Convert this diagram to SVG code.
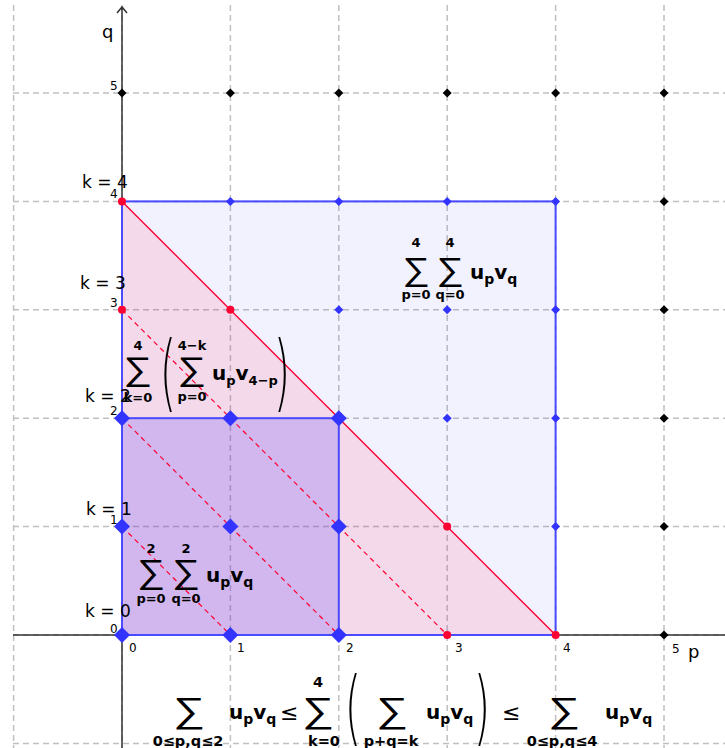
<svg xmlns="http://www.w3.org/2000/svg" width="725" height="748" viewBox="0 0 725 748">
<defs>
<style>
.grid{stroke:#c0c0c0;stroke-width:1.5;stroke-dasharray:6,4;fill:none}
.axis{stroke:#333;stroke-width:1.5;fill:none}
.edge{stroke:#4a4aff;stroke-width:2;fill:none}
.rl{stroke:#ff0033;stroke-width:1.4;fill:none}
.rd{stroke:#ff0033;stroke-width:1.2;fill:none;stroke-dasharray:5,4}
.tk{font-family:"DejaVu Sans",sans-serif;font-size:12px;fill:#000}
.kl{font-family:"DejaVu Sans",sans-serif;font-size:17px;fill:#000}
.ax{font-family:"DejaVu Sans",sans-serif;font-size:18px;fill:#000}
.sig{font-family:"DejaVu Sans",sans-serif;font-weight:200;font-size:32px;text-anchor:middle;fill:#000}
.lim{font-family:"DejaVu Sans",sans-serif;font-weight:bold;font-size:13px;text-anchor:middle;fill:#000}
.lim2{font-family:"DejaVu Sans",sans-serif;font-weight:bold;font-size:14.5px;text-anchor:middle;fill:#000}
.uv{font-family:"DejaVu Sans",sans-serif;font-weight:bold;font-size:20px;fill:#000}
.par{font-family:"DejaVu Sans",sans-serif;font-weight:200;font-size:42px;text-anchor:middle;fill:#000}
.le{font-family:"DejaVu Sans",sans-serif;font-size:22px;fill:#000}
</style>
<path id="dB" d="M0,-8 L8,0 L0,8 L-8,0Z" fill="#3333ff"/>
<path id="ds" d="M0,-4.5 L4.5,0 L0,4.5 L-4.5,0Z" fill="#3333ff"/>
<path id="dk" d="M0,-4.5 L4.5,0 L0,4.5 L-4.5,0Z" fill="#000"/>
<circle id="dr" r="4" fill="#ff0033"/>
</defs>
<rect width="725" height="748" fill="#fff"/>
<g id="grid">
<path class="grid" d="M13.6,5V748M230.4,5V748M338.8,5V748M447.2,5V748M555.6,5V748M664,5V748M13,93H725M13,201.4H725M13,309.8H725M13,418.2H725M13,526.6H725M13,743.4H725M13,635H725M122,5V748"/>
</g>
<g id="regions">
<rect id="square4" x="122" y="201.4" width="433.6" height="433.6" fill="#4040ff" fill-opacity="0.07"/>
<polygon id="triangle" points="122,201.4 555.6,635 122,635" fill="#ff0033" fill-opacity="0.1"/>
<rect id="square2" x="122" y="418.2" width="216.8" height="216.8" fill="#4a30ff" fill-opacity="0.2"/>
</g>
<g id="axes">
<path class="axis" d="M13,635H725M122,748V7M117,13L122,7L127,13"/>
</g>
<g id="connectors">
<path class="rd" d="M122,309.8L447.2,635M122,418.2L338.8,635M122,526.6L230.4,635"/>
<path class="rl" d="M122,201.4L555.6,635"/>
<rect class="edge" x="122" y="201.4" width="433.6" height="433.6"/>
<rect class="edge" x="122" y="418.2" width="216.8" height="216.8"/>
</g>
<g id="points">
<use href="#dk" x="122" y="93"/><use href="#dk" x="230.4" y="93"/><use href="#dk" x="338.8" y="93"/><use href="#dk" x="447.2" y="93"/><use href="#dk" x="555.6" y="93"/><use href="#dk" x="664" y="93"/>
<use href="#dk" x="664" y="201.4"/><use href="#dk" x="664" y="309.8"/><use href="#dk" x="664" y="418.2"/><use href="#dk" x="664" y="526.6"/><use href="#dk" x="664" y="635"/>
<use href="#ds" x="230.4" y="201.4"/><use href="#ds" x="338.8" y="201.4"/><use href="#ds" x="447.2" y="201.4"/><use href="#ds" x="555.6" y="201.4"/>
<use href="#ds" x="338.8" y="309.8"/><use href="#ds" x="447.2" y="309.8"/><use href="#ds" x="555.6" y="309.8"/>
<use href="#ds" x="447.2" y="418.2"/><use href="#ds" x="555.6" y="418.2"/><use href="#ds" x="555.6" y="526.6"/>
<use href="#dr" x="122" y="201.4"/><use href="#dr" x="230.4" y="309.8"/><use href="#dr" x="447.2" y="526.6"/><use href="#dr" x="555.6" y="635"/><use href="#dr" x="122" y="309.8"/><use href="#dr" x="447.2" y="635"/>
<use href="#dB" x="122" y="635"/><use href="#dB" x="230.4" y="635"/><use href="#dB" x="338.8" y="635"/>
<use href="#dB" x="122" y="526.6"/><use href="#dB" x="230.4" y="526.6"/><use href="#dB" x="338.8" y="526.6"/>
<use href="#dB" x="122" y="418.2"/><use href="#dB" x="230.4" y="418.2"/><use href="#dB" x="338.8" y="418.2"/>
</g>
<g id="ticks">
<text class="tk" x="110" y="90">5</text><text class="tk" x="110" y="198">4</text><text class="tk" x="110" y="307">3</text><text class="tk" x="110" y="415">2</text><text class="tk" x="110" y="524">1</text><text class="tk" x="110" y="633">0</text>
<text class="tk" x="129" y="652">0</text><text class="tk" x="237" y="652">1</text><text class="tk" x="346" y="652">2</text><text class="tk" x="455" y="652">3</text><text class="tk" x="563" y="652">4</text><text class="tk" x="672" y="653">5</text>
<text class="ax" x="102" y="38">q</text><text class="ax" x="688" y="658">p</text>
</g>
<g id="klabels">
<text class="kl" x="82" y="188">k = 4</text>
<text class="kl" x="80" y="289">k = 3</text>
<text class="kl" x="85" y="402">k = 2</text>
<text class="kl" x="86" y="515">k = 1</text>
<text class="kl" x="85" y="617">k = 0</text>
</g>
<g id="formula-top">
<text class="lim" x="416" y="247">4</text><text class="lim" x="450" y="247">4</text>
<text class="sig" transform="translate(416,280) scale(1.2,1)">∑</text><text class="sig" transform="translate(450,280) scale(1.2,1)">∑</text>
<text class="lim" x="416" y="299">p=0</text><text class="lim" x="450" y="299">q=0</text>
<text class="uv" x="470" y="279">u<tspan font-size="14" dy="5">p</tspan><tspan dy="-5">v</tspan><tspan font-size="14" dy="5">q</tspan></text>
</g>
<g id="formula-mid">
<text class="lim" x="138" y="350">4</text>
<text class="sig" transform="translate(138,380) scale(1.25,1.03)">∑</text>
<text class="lim" x="138" y="402">k=0</text>
<text class="par" transform="translate(168,401) scale(1,2)">(</text>
<text class="lim" x="192" y="350">4−k</text>
<text class="sig" transform="translate(192,380) scale(1.25,1.03)">∑</text>
<text class="lim" x="192" y="401">p=0</text>
<text class="uv" x="212" y="380">u<tspan font-size="13" dy="5">p</tspan><tspan dy="-5">v</tspan><tspan font-size="13" dy="5">4−p</tspan></text>
<text class="par" transform="translate(282,401) scale(1,2)">)</text>
</g>
<g id="formula-small">
<text class="lim" x="151" y="553">2</text><text class="lim" x="186" y="553">2</text>
<text class="sig" transform="translate(151,583) scale(1.22,1.05)">∑</text><text class="sig" transform="translate(186,583) scale(1.22,1.05)">∑</text>
<text class="lim" x="151" y="603">p=0</text><text class="lim" x="186" y="603">q=0</text>
<text class="uv" x="206" y="582">u<tspan font-size="14" dy="5">p</tspan><tspan dy="-5">v</tspan><tspan font-size="14" dy="5">q</tspan></text>
</g>
<g id="formula-bottom">
<text class="sig" transform="translate(189,722) scale(1.4,1.1)">∑</text>
<text class="lim2" x="188" y="746">0≤p,q≤2</text>
<text class="uv" x="229" y="719">u<tspan font-size="14" dy="5">p</tspan><tspan dy="-5">v</tspan><tspan font-size="14" dy="5">q</tspan></text>
<text class="le" x="280" y="720">≤</text>
<text class="lim2" x="318" y="687">4</text>
<text class="sig" transform="translate(318,722) scale(1.4,1.1)">∑</text>
<text class="lim2" x="324" y="746">k=0</text>
<text class="par" transform="translate(353,735) scale(1,1.95)">(</text>
<text class="sig" transform="translate(392,722) scale(1.4,1.1)">∑</text>
<text class="lim2" x="391" y="746">p+q=k</text>
<text class="uv" x="426" y="719">u<tspan font-size="14" dy="5">p</tspan><tspan dy="-5">v</tspan><tspan font-size="14" dy="5">q</tspan></text>
<text class="par" transform="translate(482,735) scale(1,1.95)">)</text>
<text class="le" x="502" y="720">≤</text>
<text class="sig" transform="translate(564,722) scale(1.4,1.1)">∑</text>
<text class="lim2" x="562" y="746">0≤p,q≤4</text>
<text class="uv" x="605" y="719">u<tspan font-size="14" dy="5">p</tspan><tspan dy="-5">v</tspan><tspan font-size="14" dy="5">q</tspan></text>
</g>
</svg>
